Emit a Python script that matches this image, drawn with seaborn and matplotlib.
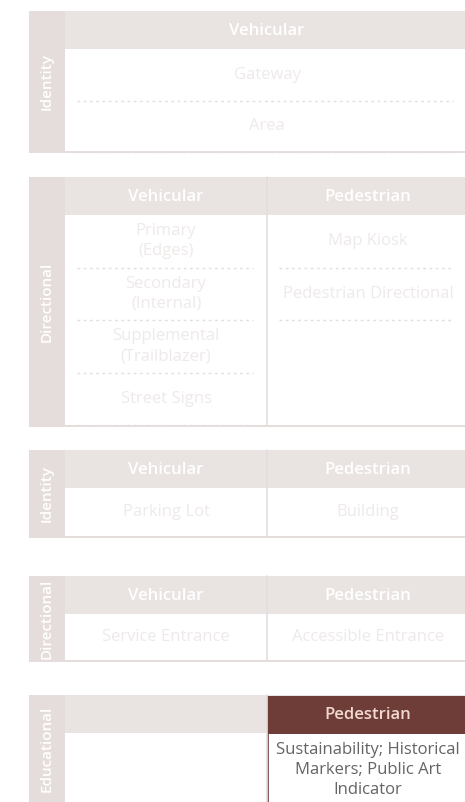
import matplotlib
matplotlib.use("Agg")
import matplotlib.pyplot as plt
import matplotlib.patches as mpatches
import seaborn as sns

# sign types, one block per category
side_labels = ["Identity", "Directional", "Identity", "Directional", "Educational"]
col_headers = [["Vehicular"],
               ["Vehicular", "Pedestrian"],
               ["Vehicular", "Pedestrian"],
               ["Vehicular", "Pedestrian"],
               ["", "Pedestrian"]]
col_items = [[["Gateway", "Area"]],
             [["Primary\n(Edges)", "Secondary\n(Internal)", "Supplemental\n(Trailblazer)", "Street Signs"],
              ["Map Kiosk", "Pedestrian Directional"]],
             [["Parking Lot"], ["Building"]],
             [["Service Entrance"], ["Accessible Entrance"]],
             [[], ["Sustainability; Historical\nMarkers; Public Art\nIndicator"]]]
active = [(4, 1)]  # highlighted block / column

# layout (pixels)
W, H = 465, 802
left, band_w, col_split, right = 29, 36, 267, 470
tops = [11, 177, 450, 576, 695]
bottoms = [153, 427, 538, 662, 830]
head_h = 38
row_h = [51.5, 52.5, 48, 46, 69]

band_c = "#e5dddb"
head_c = "#e9e3e1"
faint_txt = "#eeeae9"
line_c = "#e4dfde"
dark_c = "#6e3d38"
dark_txt = "#f3d9d2"
body_txt = "#666363"

sns.set_theme(style="white")
plt.rcParams["font.family"] = ["Open Sans", "DejaVu Sans"]

fig = plt.figure(figsize=(W / 100, H / 100), dpi=100)
ax = fig.add_axes([0, 0, 1, 1])
ax.set_xlim(0, W)
ax.set_ylim(H, 0)
ax.axis("off")

for s, label in enumerate(side_labels):
    top, bot = tops[s], bottoms[s]
    x0 = left + band_w
    ncol = len(col_headers[s])
    if ncol == 1:
        edges = [x0, right]
    else:
        edges = [x0, col_split, right]
    # band + header background
    ax.add_patch(mpatches.Rectangle((left, top), right - left, bot - top, color=band_c, lw=0))
    ax.add_patch(mpatches.Rectangle((x0, top), right - x0, head_h, color=head_c, lw=0))
    # white body
    ax.add_patch(mpatches.Rectangle((x0, top + head_h), right - x0, bot - top - head_h - 2,
                                    color="white", lw=0))
    clip = mpatches.Rectangle((left, top), band_w, bot - top, transform=ax.transData)
    t = ax.text(left + band_w / 2, (top + min(bot, H)) / 2, label, rotation=90,
                ha="center", va="center", color="white", fontsize=11, fontweight="semibold")
    t.set_clip_path(clip)
    for c in range(ncol):
        xa, xb = edges[c], edges[c + 1]
        xc = (xa + min(xb, 469)) / 2
        is_active = (s, c) in active
        if is_active:
            ax.add_patch(mpatches.Rectangle((xa, top + 1), xb - xa, head_h, color=dark_c, lw=0))
            ax.add_patch(mpatches.Rectangle((xa + 0.5, top + head_h), xb - xa, bot - top,
                                            fill=False, ec=dark_c, lw=1.2))
        ax.text(xc, top + head_h / 2 + 1, col_headers[s][c], ha="center", va="center",
                color=dark_txt if is_active else "white", fontsize=12, fontweight="semibold")
        if c > 0:
            ax.plot([xa, xa], [top, bot - 2], color=line_c, lw=1.2)
        items = col_items[s][c]
        for r, item in enumerate(items):
            yc = top + head_h + row_h[s] * (r + 0.5)
            if is_active:
                yc = top + head_h + 37
            ax.text(xc, yc, item, ha="center", va="center", linespacing=1.35,
                    color=body_txt if is_active else faint_txt, fontsize=12)
            if len(items) > 1:
                yd = top + head_h + row_h[s] * (r + 1)
                ax.plot([xa + 12, min(xb, 467) - 14], [yd, yd], color=line_c, lw=1,
                        ls=(0, (2, 2.5)))

fig.savefig("out.png", dpi=100)
